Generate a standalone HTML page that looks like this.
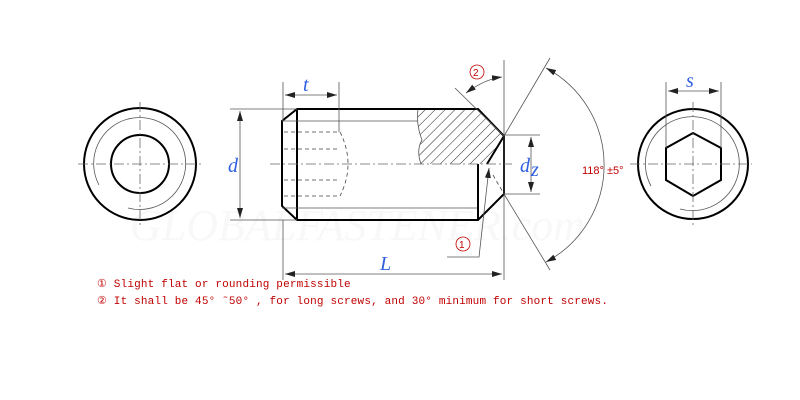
<!DOCTYPE html>
<html><head><meta charset="utf-8"><style>
html,body{margin:0;padding:0;background:#fff;}
svg{display:block;}
.k{stroke:#000;stroke-width:2;fill:none}
.t{stroke:#555;stroke-width:0.8;fill:none}
.c{stroke:#666;stroke-width:0.8;fill:none;stroke-dasharray:10,3,2,3}
.dsh{stroke:#444;stroke-width:0.8;fill:none;stroke-dasharray:4,3}
.lab{font-family:"Liberation Serif",serif;font-style:italic;fill:#3060e0;font-size:20px}
.note{font-family:"Liberation Mono",monospace;font-size:11px;fill:#c00000;letter-spacing:0.17px}
</style></head><body>
<svg width="800" height="400" viewBox="0 0 800 400" xmlns="http://www.w3.org/2000/svg">
<defs>
<marker id="a" markerWidth="10" markerHeight="6" refX="10" refY="3" orient="auto-start-reverse" markerUnits="userSpaceOnUse"><path d="M0,0 L10,3 L0,6 z" fill="#222"/></marker>
<pattern id="h" width="7" height="7" patternUnits="userSpaceOnUse" patternTransform="rotate(45)"><line x1="0" y1="0" x2="0" y2="7" stroke="#222" stroke-width="1"/></pattern>
<clipPath id="hc"><path d="M418,109 L478,109 L504,136 L487,164 L421,164 Q416,150 422,140 Q416,125 418,109 z"/></clipPath>
</defs>
<text x="130" y="240" font-family="Liberation Serif,serif" font-style="italic" font-size="44" fill="#f8f8f8">GLOBALFASTENER.com</text>
<!-- left view -->
<circle cx="140" cy="164" r="56" class="k"/>
<circle cx="140" cy="164" r="29" class="k"/>
<path d="M99,185 A46,46 0 1 1 128,208" class="t"/>
<line x1="78" y1="164" x2="202" y2="164" class="c"/>
<line x1="140" y1="102" x2="140" y2="228" class="c"/>
<!-- main body -->
<rect x="418" y="109" width="90" height="56" fill="url(#h)" clip-path="url(#hc)"/>
<path d="M418,109 Q416,125 422,140 Q416,150 421,164" class="t"/>
<path d="M297,109 L478,109 L504,136 L504,194 L478,220 L297,220 L282,206 L282,121 Z" class="k"/>
<line x1="297" y1="109" x2="297" y2="220" class="k"/>
<line x1="282" y1="121" x2="418" y2="121" class="t"/>
<line x1="282" y1="208" x2="478" y2="208" class="t"/>
<line x1="478" y1="164" x2="478" y2="220" class="k"/>
<path d="M504,136 L487,164" class="k" stroke-width="1.3"/>
<path d="M493,175 L504,194" class="dsh"/>
<path d="M284,132 L340,132 M284,149 L340,149 M284,180 L340,180 M284,196 L340,196 M340,132 Q356,164 340,196" class="dsh"/>
<line x1="270" y1="164" x2="512" y2="164" class="c"/>
<!-- d -->
<line x1="230" y1="109" x2="297" y2="109" class="t"/>
<line x1="230" y1="220" x2="297" y2="220" class="t"/>
<line x1="240" y1="111" x2="240" y2="218" class="t" marker-start="url(#a)" marker-end="url(#a)"/>
<text x="228" y="172" class="lab">d</text>
<!-- t -->
<line x1="283" y1="82" x2="283" y2="121" class="t"/>
<line x1="339" y1="82" x2="339" y2="132" class="t"/>
<line x1="285" y1="95" x2="337" y2="95" class="t" marker-start="url(#a)" marker-end="url(#a)"/>
<text x="303" y="91" class="lab">t</text>
<!-- L -->
<line x1="283" y1="220" x2="283" y2="280" class="t"/>
<line x1="504" y1="60" x2="504" y2="280" class="t"/>
<line x1="285" y1="274" x2="502" y2="274" class="t" marker-start="url(#a)" marker-end="url(#a)"/>
<text x="380" y="270" class="lab">L</text>
<!-- dz -->
<line x1="504" y1="135" x2="540" y2="135" class="t"/>
<line x1="504" y1="194" x2="540" y2="194" class="t"/>
<line x1="531" y1="137" x2="531" y2="192" class="t" marker-start="url(#a)" marker-end="url(#a)"/>
<text x="520" y="172" class="lab">d</text><text x="531" y="176" class="lab" font-size="13">z</text>
<!-- angle lines -->
<line x1="504" y1="136" x2="550" y2="58" class="t"/>
<line x1="504" y1="194" x2="550" y2="270" class="t"/>
<line x1="455" y1="88" x2="504" y2="136" class="t"/>
<path d="M546,68 A110,110 0 0 1 546,262" class="t" marker-start="url(#a)" marker-end="url(#a)"/>
<path d="M466,93 Q485,79 502,77" class="t" marker-start="url(#a)" marker-end="url(#a)"/>
<text x="582" y="174" font-family="Liberation Sans,sans-serif" font-size="11" fill="#c00000">118°  ±5°</text>
<circle cx="477" cy="72" r="7" fill="none" stroke="#c00000" stroke-width="0.8"/><text x="473" y="76" font-family="Liberation Sans,sans-serif" font-size="10" fill="#c00000">2</text>
<circle cx="463" cy="244" r="7" fill="none" stroke="#c00000" stroke-width="0.8"/><text x="459" y="248" font-family="Liberation Sans,sans-serif" font-size="10" fill="#c00000">1</text>
<path d="M447,257 L479,257 L489,168" class="t" marker-end="url(#a)"/>
<!-- right view -->
<circle cx="693" cy="164" r="55" class="k"/>
<path d="M651,186 A47,47 0 1 1 680,209" class="t"/>
<polygon points="693,133 721,148 721,180 693,196 666,180 666,148" class="k"/>
<line x1="630" y1="164" x2="752" y2="164" class="c"/>
<line x1="693" y1="102" x2="693" y2="226" class="c"/>
<line x1="666" y1="82" x2="666" y2="148" class="t"/>
<line x1="721" y1="82" x2="721" y2="148" class="t"/>
<line x1="668" y1="91" x2="719" y2="91" class="t" marker-start="url(#a)" marker-end="url(#a)"/>
<text x="686" y="87" class="lab">s</text>
<!-- notes -->
<text x="97" y="287" class="note">① Slight flat or rounding permissible</text>
<text x="97" y="304" class="note">② It shall be 45° ˜50° , for long screws, and 30°  minimum for short screws.</text>
</svg>
</body></html>
